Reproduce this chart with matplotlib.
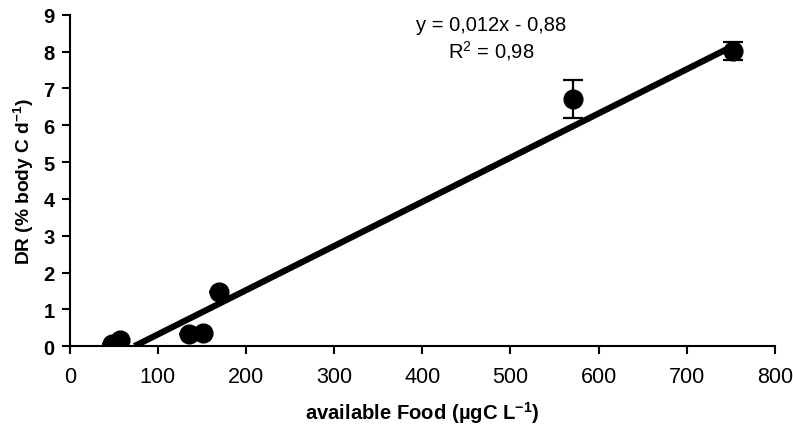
import numpy as np
import matplotlib
matplotlib.use('Agg')
import matplotlib.pyplot as plt

plt.rcParams['font.family'] = ['Liberation Sans', 'DejaVu Sans']
plt.rcParams['mathtext.fontset'] = 'custom'
plt.rcParams['mathtext.rm'] = 'Liberation Sans'
plt.rcParams['mathtext.bf'] = 'Liberation Sans:bold'

# alimento disponível vs taxa diária
food = [48, 57, 135, 151, 169, 571, 753]
dr = [0.07, 0.18, 0.32, 0.35, 1.48, 6.72, 8.02]
dr_err = [0.0, 0.0, 0.0, 0.0, 0.0, 0.52, 0.25]

slope = 0.012
intercept = -0.88
xticks = [0, 100, 200, 300, 400, 500, 600, 700, 800]
yticks = [0, 1, 2, 3, 4, 5, 6, 7, 8, 9]


def gerar_grafico():
    fig = plt.figure(figsize=(7.93, 4.27), dpi=100)
    ax = fig.add_axes([0.088, 0.187, 0.889, 0.776])

    ax.errorbar(food, dr, yerr=dr_err, fmt='o', color='black',
                markersize=13.5, elinewidth=1.6, capsize=7.5, capthick=1.6,
                zorder=3)

    x0 = -intercept / slope
    xl = np.array([x0, max(food)])
    ax.plot(xl, slope * xl + intercept, color='black', lw=4.5,
            solid_capstyle='butt', zorder=2)

    ax.text(478, 8.75, 'y = 0,012x - 0,88', ha='center', va='center',
            fontsize=14.5)
    ax.text(478, 8.03, r'R$^2$ = 0,98', ha='center', va='center',
            fontsize=14.5)

    ax.set_xlim(0, 800)
    ax.set_ylim(0, 9)
    ax.set_xticks(xticks)
    ax.set_yticks(yticks)
    ax.spines['top'].set_visible(False)
    ax.spines['right'].set_visible(False)
    ax.spines['left'].set_linewidth(1.5)
    ax.spines['bottom'].set_linewidth(1.5)
    ax.tick_params(axis='both', direction='out', length=6, width=1.5)
    ax.tick_params(axis='x', labelsize=15.5, pad=8)
    ax.tick_params(axis='y', labelsize=14.5, pad=5)
    for lab in ax.get_yticklabels():
        lab.set_fontweight('bold')

    ax.set_xlabel(r'available Food (µgC L$^{\mathbf{-1}}$)', fontsize=14.6,
                  fontweight='bold', labelpad=9)
    ax.set_ylabel(r'DR (% body C d$^{\mathbf{-1}}$)', fontsize=13.8,
                  fontweight='bold', labelpad=5)

    fig.savefig('out.png', dpi=100)


if __name__ == "__main__":
    gerar_grafico()
